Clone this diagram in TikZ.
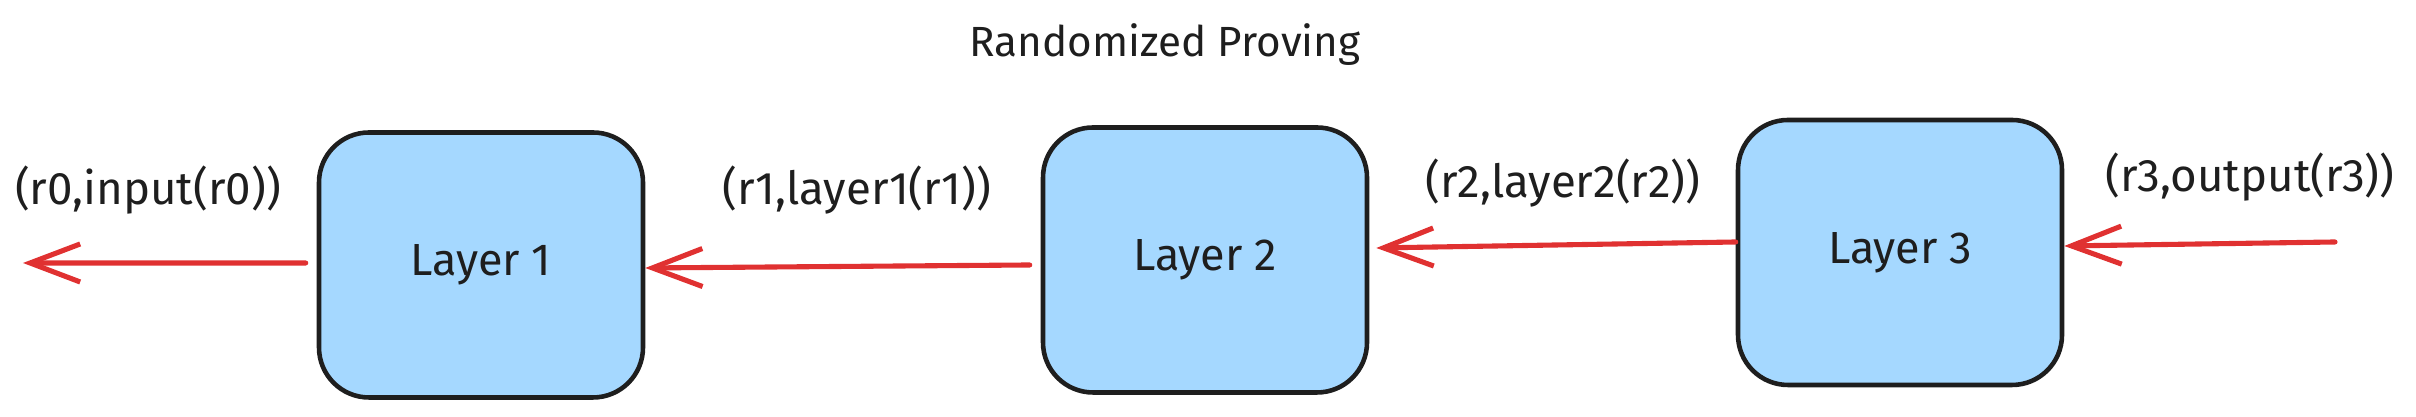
\documentclass[tikz,border=0pt]{standalone}
\usepackage{fontspec}
\setmainfont{Fira Sans}
\usepackage{tikz}
\usetikzlibrary{arrows.meta}
\definecolor{boxblue}{HTML}{A5D8FF}
\definecolor{arrowred}{HTML}{E03131}
\definecolor{ink}{HTML}{1E1E1E}

\begin{document}
\begin{tikzpicture}[
  layer/.style={draw=ink, line width=1.3pt, fill=boxblue, rounded corners=0.5cm, minimum width=3.24cm, minimum height=2.65cm, font=\fontsize{12.8}{15}\selectfont, text=ink},
  pair/.style={font=\fontsize{13}{16}\selectfont, text=ink},
  flow/.style={draw=arrowred, line width=1.45pt, line cap=round, -{Straight Barb[length=0.5cm, width=0.38cm]}}
]
  \useasboundingbox (0,0) rectangle (24.16,4.17);
  \node[font=\fontsize{12}{14}\selectfont, text=ink] at (11.65,3.72) (title) {Randomized Proving};

  \node[layer] at (4.81,1.52) (l1) {Layer 1};
  \node[layer] at (12.05,1.57) (l2) {Layer 2};
  \node[layer] at (19.0,1.645) (l3) {Layer 3};

  \node[pair] at (1.48,2.27) (p0) {(r0,input(r0))};
  \node[pair] at (8.57,2.27) (p1) {(r1,layer1(r1))};
  \node[pair] at (15.63,2.34) (p2) {(r2,layer2(r2))};
  \node[pair] at (22.5,2.40) (p3) {(r3,output(r3))};

  \coordinate (sink) at (0.23,1.54);
  \coordinate (src) at (23.35,1.75);

  \draw[flow] ([xshift=-0.11cm,yshift=0.02cm]l1.west) -- (sink);
  \draw[flow] ([xshift=-0.11cm,yshift=-0.05cm]l2.west) -- ([yshift=-0.03cm]l1.east);
  \draw[flow] ([yshift=0.105cm]l3.west) -- ([xshift=0.07cm,yshift=0.12cm]l2.east);
  \draw[flow] (src) -- ([yshift=0.065cm]l3.east);
\end{tikzpicture}
\end{document}
